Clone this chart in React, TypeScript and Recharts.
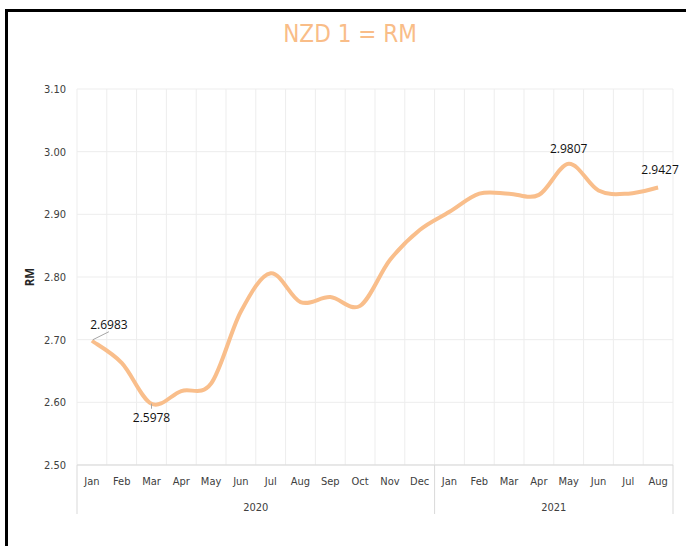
import { LineChart, Line, XAxis, YAxis, CartesianGrid, LabelList } from 'recharts';

const MONTHS = ['Jan', 'Feb', 'Mar', 'Apr', 'May', 'Jun', 'Jul', 'Aug', 'Sep', 'Oct', 'Nov', 'Dec', 'Jan', 'Feb', 'Mar', 'Apr', 'May', 'Jun', 'Jul', 'Aug'];
const RATES = [2.6983, 2.663, 2.5978, 2.618, 2.63, 2.745, 2.806, 2.76, 2.768, 2.754, 2.827, 2.875, 2.904, 2.933, 2.933, 2.931, 2.9807, 2.938, 2.933, 2.9427];
const YEARS = ['2020', '2021'];
const YEAR_COUNTS = [12, 8];
const Y_TICKS = [2.5, 2.6, 2.7, 2.8, 2.9, 3.0, 3.1];
// only these points carry a value label
const LABELLED = [0, 2, 16, 19];

const data = MONTHS.map((m, i) => ({ i, m, rate: RATES[i] }));

const W = 686;
const H = 546;
const PLOT_LEFT = 77;
const PLOT_RIGHT = 673;
const PLOT_TOP = 89;
const PLOT_BOTTOM = 465;
const BAND = (PLOT_RIGHT - PLOT_LEFT) / MONTHS.length;

const LINE_COLOR = '#F9BE8B';
const NARROW = "'Liberation Sans Narrow', 'DejaVu Sans Condensed', sans-serif";
const LABEL_FONT = "'Open Sans', 'Noto Sans', sans-serif";

// excel style smoothed line (catmull-rom as bezier)
const smoothCurve = (context: any) => {
  let pts: number[][] = [];
  return {
    areaStart() {},
    areaEnd() {},
    lineStart() {
      pts = [];
    },
    point(x: number, y: number) {
      pts.push([+x, +y]);
    },
    lineEnd() {
      const n = pts.length;
      if (!n) return;
      context.moveTo(pts[0][0], pts[0][1]);
      for (let k = 0; k < n - 1; k++) {
        const p0 = pts[Math.max(k - 1, 0)];
        const p1 = pts[k];
        const p2 = pts[k + 1];
        const p3 = pts[Math.min(k + 2, n - 1)];
        context.bezierCurveTo(
          p1[0] + (p2[0] - p0[0]) / 6,
          p1[1] + (p2[1] - p0[1]) / 6,
          p2[0] - (p3[0] - p1[0]) / 6,
          p2[1] - (p3[1] - p1[1]) / 6,
          p2[0],
          p2[1]
        );
      }
    },
  };
};

const PointLabel = (props: any) => {
  const { x, y, value, index } = props;
  if (!LABELLED.includes(index)) return null;
  const txt = Number(value).toFixed(4);
  const style = { fontSize: 12, fill: '#111', fontFamily: LABEL_FONT };
  if (index === 0) {
    return (
      <g>
        <line x1={x + 1} y1={y - 1} x2={x + 17} y2={y - 9} stroke="#a6a6a6" strokeWidth={1} />
        <text x={x + 17} y={y - 12} textAnchor="middle" {...style}>{txt}</text>
      </g>
    );
  }
  if (index === 2) {
    return (
      <g>
        <line x1={x} y1={y} x2={x} y2={y + 5} stroke="#a6a6a6" strokeWidth={1} />
        <text x={x} y={y + 18} textAnchor="middle" {...style}>{txt}</text>
      </g>
    );
  }
  if (index === LABELLED[LABELLED.length - 1]) {
    return <text x={x + 2} y={y - 14} textAnchor="middle" {...style}>{txt}</text>;
  }
  return <text x={x} y={y - 11} textAnchor="middle" {...style}>{txt}</text>;
};

const YearTick = (props: any) => {
  const { x, index } = props;
  const left = x - BAND / 2;
  const parts: any[] = [];
  let start = 0;
  YEARS.forEach((yr, g) => {
    if (index === start) {
      parts.push(<line key={'l' + g} x1={left} y1={PLOT_BOTTOM} x2={left} y2={514} stroke="#d9d9d9" />);
      parts.push(
        <text key={'t' + g} x={left + (YEAR_COUNTS[g] * BAND) / 2} y={511} textAnchor="middle" fontSize={11} fill="#404040" fontFamily={NARROW}>
          {yr}
        </text>
      );
    }
    start += YEAR_COUNTS[g];
  });
  if (index === MONTHS.length - 1) {
    parts.push(<line key="end" x1={x + BAND / 2} y1={PLOT_BOTTOM} x2={x + BAND / 2} y2={514} stroke="#d9d9d9" />);
  }
  return <g>{parts}</g>;
};

const RmLabel = (props: any) => {
  const vb = props.viewBox || {};
  const cy = vb.y + vb.height / 2;
  return (
    <text x={34} y={cy} transform={`rotate(-90, 34, ${cy})`} textAnchor="middle" fontSize={11.5} fontWeight="bold" fill="#262626" fontFamily={LABEL_FONT}>
      RM
    </text>
  );
};

export default function App() {
  return (
    <div style={{ position: 'fixed', left: 0, top: 0, width: W, height: H, overflow: 'hidden', background: '#fff' }}>
      <div
        style={{
          position: 'absolute',
          left: 5,
          top: 9,
          width: 720,
          height: 600,
          borderLeft: '3px solid #000',
          borderTop: '3px solid #000',
        }}
      />
      <div
        style={{
          position: 'absolute',
          left: 250,
          width: 200,
          top: 18,
          textAlign: 'center',
          fontFamily: "'DejaVu Sans Condensed', 'Liberation Sans Narrow', sans-serif",
          fontSize: 24,
          color: '#F9BD88',
          lineHeight: '32px',
        }}
      >
        NZD 1 = RM
      </div>
      <div style={{ position: 'absolute', left: 0, top: 0 }}>
        <LineChart
          width={W}
          height={H}
          data={data}
          margin={{ top: PLOT_TOP, right: W - PLOT_RIGHT, left: 17, bottom: H - PLOT_BOTTOM - 53 }}
        >
          <CartesianGrid
            stroke="#ededed"
            verticalCoordinatesGenerator={({ offset }: any) =>
              MONTHS.map((_, k) => offset.left + k * (offset.width / MONTHS.length)).concat([offset.left + offset.width])
            }
          />
          <XAxis
            xAxisId="m"
            dataKey="m"
            interval={0}
            height={28}
            padding={{ left: BAND / 2, right: BAND / 2 }}
            tickLine={false}
            tickMargin={6}
            axisLine={{ stroke: '#d9d9d9' }}
            tick={{ fontSize: 11, fill: '#404040', fontFamily: NARROW }}
          />
          <XAxis
            xAxisId="y"
            dataKey="i"
            interval={0}
            height={25}
            padding={{ left: BAND / 2, right: BAND / 2 }}
            tickLine={false}
            axisLine={false}
            tick={<YearTick />}
          />
          <YAxis
            width={PLOT_LEFT - 17}
            domain={[2.5, 3.1]}
            ticks={Y_TICKS}
            tickFormatter={(v: number) => v.toFixed(2)}
            axisLine={false}
            tickLine={false}
            tickMargin={5}
            tick={{ fontSize: 11, fill: '#404040', fontFamily: NARROW }}
            label={{ content: <RmLabel /> }}
          />
          <Line
            xAxisId="m"
            dataKey="rate"
            type={smoothCurve as any}
            stroke={LINE_COLOR}
            strokeWidth={4}
            dot={false}
            activeDot={false}
            isAnimationActive={false}
          >
            <LabelList dataKey="rate" content={<PointLabel />} />
          </Line>
        </LineChart>
      </div>
    </div>
  );
}
